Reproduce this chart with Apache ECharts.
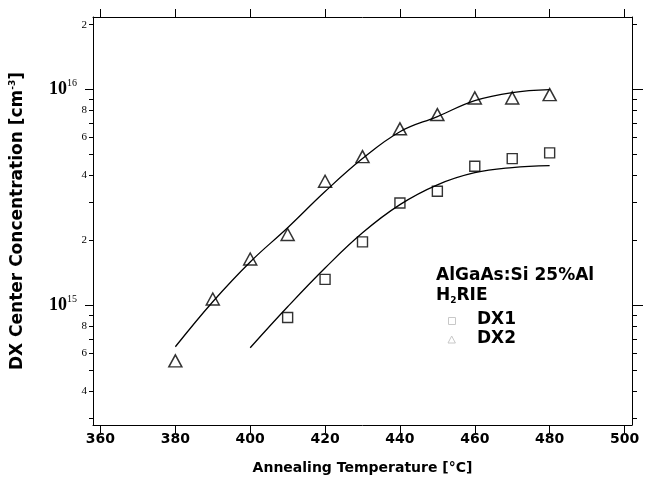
<!DOCTYPE html>
<html><head><meta charset="utf-8">
<script src="https://cdn.jsdelivr.net/npm/echarts@6/dist/echarts.min.js"></script>
<style>html,body{margin:0;padding:0;background:#fff}#c{width:646px;height:489px}</style>
</head><body><div id="c"></div>
<script>
// ---- data ----
const dx2Temps = [380, 390, 400, 410, 420, 430, 440, 450, 460, 470, 480];
const dx2Values = [5.53e14, 1.07e15, 1.64e15, 2.13e15, 3.76e15, 4.89e15, 6.58e15, 7.66e15, 9.15e15, 9.15e15, 9.48e15];
const dx1Temps = [410, 420, 430, 440, 450, 460, 470, 480];
const dx1Values = [8.79e14, 1.32e15, 1.97e15, 2.98e15, 3.38e15, 4.41e15, 4.79e15, 5.09e15];
const dx2FitTemps = [380, 390, 400, 410, 420, 430, 440, 450, 460, 470, 480];
const dx2FitValues = [6.43e14, 1.04e15, 1.59e15, 2.29e15, 3.37e15, 4.79e15, 6.38e15, 7.5e15, 8.89e15, 9.69e15, 1.0e16];
const dx1FitTemps = [400, 410, 420, 430, 440, 450, 460, 470, 480];
const dx1FitValues = [6.36e14, 9.85e14, 1.49e15, 2.17e15, 2.93e15, 3.62e15, 4.12e15, 4.35e15, 4.44e15];
const xTicks = [360, 380, 400, 420, 440, 460, 480, 500];
const yMajorTicks = [1e15, 1e16];
const yMajorExponents = ['15', '16'];
const yMinorTicks = [3e14, 4e14, 5e14, 6e14, 7e14, 8e14, 9e14, 2e15, 3e15, 4e15, 5e15, 6e15, 7e15, 8e15, 9e15, 2e16];
const yMinorLabels = ['', '4', '', '6', '', '8', '', '2', '', '4', '', '6', '', '8', '', '2'];
const legendTitle = 'AlGaAs:Si 25%Al';
const seriesNames = ['DX1', 'DX2'];

function findIdx(arr, v) {
  return arr.findIndex(t => Math.abs(t - v) / t < 1e-6);
}
function zip(a, b) { return a.map((x, i) => [x, b[i]]); }

const chart = echarts.init(document.getElementById('c'), null, {renderer: 'canvas'});
const Y_MIN = 2.79e14, Y_MAX = 2.17e16;
const black = '#000';
const sans = 'DejaVu Sans';
const serif = 'Liberation Serif';

function yAxisBase(pos) {
  return {
    type: 'log', logBase: 10, min: Y_MIN, max: Y_MAX, position: pos,
    splitLine: {show: false}, minorTick: {show: false}, minorSplitLine: {show: false},
    axisLine: {show: true, lineStyle: {color: black, width: 1}}
  };
}

const option = {
  animation: false,
  backgroundColor: '#fff',
  grid: {left: 93, right: 14, top: 17, bottom: 64, containLabel: false, outerBoundsMode: 'none'},
  xAxis: [
    {
      type: 'value', min: 358, max: 502, position: 'bottom',
      splitLine: {show: false},
      axisLine: {show: true, onZero: false, lineStyle: {color: black, width: 1}},
      axisTick: {show: true, inside: false, length: 8, customValues: xTicks, lineStyle: {color: black}},
      axisLabel: {customValues: xTicks, margin: 7, color: black, fontFamily: sans, fontWeight: 'bold', fontSize: 14},
      name: 'Annealing Temperature [°C]', nameLocation: 'middle', nameGap: 36,
      nameTextStyle: {color: black, fontFamily: sans, fontWeight: 'bold', fontSize: 14}
    },
    {
      type: 'value', min: 358, max: 502, position: 'top',
      splitLine: {show: false},
      axisLine: {show: true, onZero: false, lineStyle: {color: black, width: 1}},
      axisTick: {show: true, inside: false, length: 8, customValues: xTicks, lineStyle: {color: black}},
      axisLabel: {show: false}
    }
  ],
  yAxis: [
    Object.assign(yAxisBase('left'), {
      axisTick: {show: true, inside: false, length: 4, customValues: yMinorTicks, lineStyle: {color: black}},
      axisLabel: {
        customValues: yMinorTicks, margin: 6, color: black, fontFamily: serif, fontSize: 11,
        formatter: v => { const i = findIdx(yMinorTicks, v); return i >= 0 ? yMinorLabels[i] : ''; }
      },
      name: '{n|DX Center Concentration [cm}{s|-3}{n|]}', nameLocation: 'middle', nameGap: 66,
      nameTextStyle: {
        rich: {
          n: {color: black, fontFamily: sans, fontWeight: 'bold', fontSize: 17, lineHeight: 19},
          s: {color: black, fontFamily: sans, fontWeight: 'bold', fontSize: 9, verticalAlign: 'top', lineHeight: 19}
        }
      }
    }),
    Object.assign(yAxisBase('left'), {
      axisLine: {show: false},
      axisTick: {show: true, inside: false, length: 8, customValues: yMajorTicks, lineStyle: {color: black}},
      axisLabel: {
        customValues: yMajorTicks, margin: 16,
        formatter: v => { const i = findIdx(yMajorTicks, v); return i >= 0 ? '{b|10}{s|' + yMajorExponents[i] + '}' : ''; },
        rich: {
          b: {color: black, fontFamily: serif, fontWeight: 'bold', fontSize: 18, lineHeight: 22},
          s: {color: black, fontFamily: serif, fontSize: 10, verticalAlign: 'top', lineHeight: 22}
        }
      }
    }),
    Object.assign(yAxisBase('right'), {
      axisTick: {show: true, inside: false, length: 5, customValues: yMinorTicks, lineStyle: {color: black}},
      axisLabel: {show: false}
    }),
    Object.assign(yAxisBase('right'), {
      axisLine: {show: false},
      axisTick: {show: true, inside: false, length: 11, customValues: yMajorTicks, lineStyle: {color: black}},
      axisLabel: {show: false}
    })
  ],
  series: [
    {
      name: 'DX2 fit', type: 'line', data: zip(dx2FitTemps, dx2FitValues), smooth: 0.4,
      showSymbol: false, symbol: 'none', lineStyle: {color: black, width: 1.3}, z: 2, silent: true
    },
    {
      name: 'DX1 fit', type: 'line', data: zip(dx1FitTemps, dx1FitValues), smooth: 0.4,
      showSymbol: false, symbol: 'none', lineStyle: {color: black, width: 1.3}, z: 2, silent: true
    },
    {
      name: seriesNames[1], type: 'scatter', data: zip(dx2Temps, dx2Values), symbol: 'triangle', symbolSize: [13, 12],
      itemStyle: {color: 'rgba(0,0,0,0)', borderColor: black, borderWidth: 1.5}, z: 3
    },
    {
      name: seriesNames[0], type: 'scatter', data: zip(dx1Temps, dx1Values), symbol: 'rect', symbolSize: [10, 10],
      itemStyle: {color: 'rgba(0,0,0,0)', borderColor: black, borderWidth: 1.4}, z: 3
    }
  ],
  graphic: [
    {type: 'text', left: 436, top: 267, style: {text: legendTitle, fill: black, font: 'bold 17px "DejaVu Sans"'}},
    {type: 'text', left: 436, top: 287, style: {
      text: '{t|H}{u|2}{t|RIE}',
      rich: {
        t: {fill: black, fontFamily: sans, fontWeight: 'bold', fontSize: 17, lineHeight: 20},
        u: {fill: black, fontFamily: sans, fontWeight: 'bold', fontSize: 9, verticalAlign: 'bottom', lineHeight: 20}
      }
    }},
    {type: 'rect', shape: {x: 448.5, y: 317.5, width: 7, height: 7}, style: {fill: 'none', stroke: '#c8c8c8', lineWidth: 1}},
    {type: 'text', left: 477, top: 311, style: {text: seriesNames[0], fill: black, font: 'bold 17px "DejaVu Sans"'}},
    {type: 'polygon', shape: {points: [[451.7, 336], [448, 343], [455.4, 343]]}, style: {fill: 'none', stroke: '#c8c8c8', lineWidth: 1}},
    {type: 'text', left: 477, top: 330, style: {text: seriesNames[1], fill: black, font: 'bold 17px "DejaVu Sans"'}}
  ]
};
chart.setOption(option);
</script>
</body></html>
